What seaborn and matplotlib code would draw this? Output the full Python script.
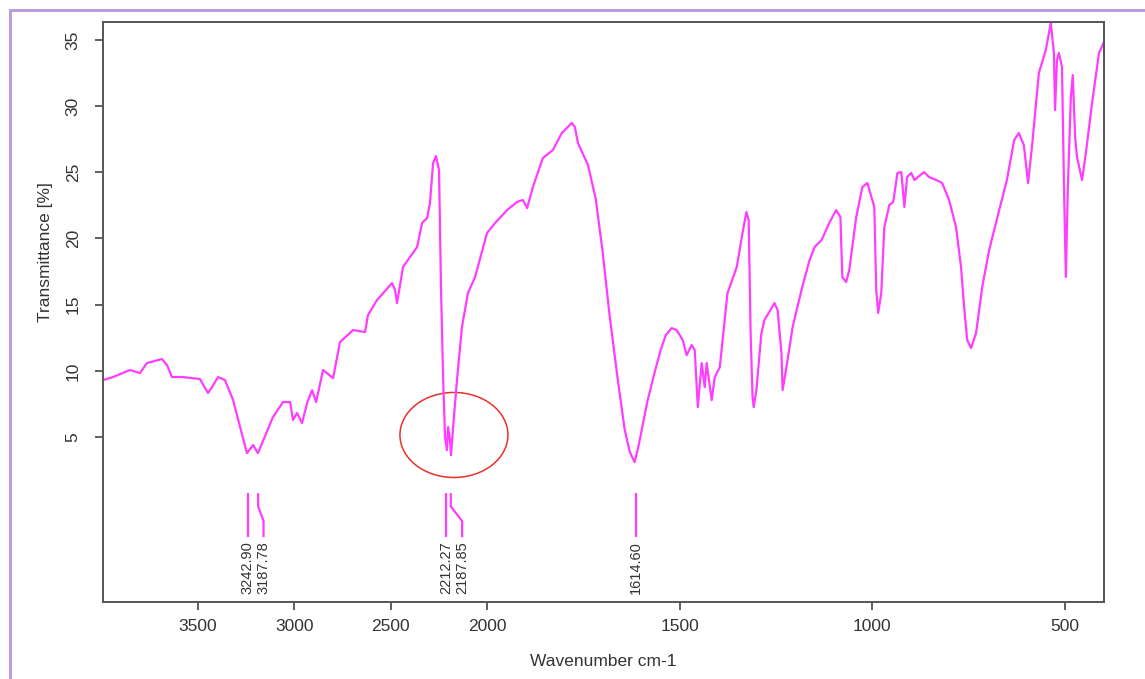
import numpy as np
import pandas as pd
import matplotlib
matplotlib.use("Agg")
import matplotlib.pyplot as plt
import seaborn as sns
from matplotlib.patches import Ellipse
from matplotlib.lines import Line2D

# ---------------- data ----------------
wavenumber = [3993, 3941, 3853, 3801, 3765, 3687, 3661, 3635, 3578, 3490,
              3448, 3427, 3396, 3360, 3318, 3246, 3214, 3189, 3111, 3059,
              3022, 3007, 2986, 2960, 2934, 2908, 2887, 2851, 2799, 2763,
              2695, 2633, 2618, 2571, 2493, 2477, 2467, 2436, 2400, 2363,
              2337, 2311, 2296, 2280, 2265, 2249, 2239, 2228, 2218, 2208,
              2202, 2192, 2187, 2176, 2156, 2130, 2099, 2062, 2000, 1979,
              1948, 1922, 1907, 1896, 1881, 1855, 1829, 1806, 1780, 1772,
              1764, 1738, 1718, 1700, 1682, 1661, 1643, 1630, 1617, 1607,
              1596, 1583, 1565, 1549, 1536, 1521, 1508, 1492, 1482, 1469,
              1461, 1453, 1443, 1435, 1430, 1417, 1409, 1396, 1376, 1352,
              1337, 1327, 1321, 1316, 1311, 1308, 1301, 1288, 1280, 1254,
              1246, 1236, 1233, 1223, 1207, 1182, 1163, 1150, 1132, 1112,
              1094, 1083, 1078, 1068, 1060, 1042, 1026, 1013, 995, 990,
              985, 977, 969, 956, 946, 935, 925, 917, 910, 899,
              891, 866, 853, 834, 819, 801, 783, 770, 762, 754,
              744, 731, 715, 697, 671, 651, 632, 620, 607, 596,
              586, 568, 550, 537, 529, 526, 521, 516, 508, 503,
              498, 493, 485, 480, 474, 469, 456, 446, 430, 412,
              399]

transmittance = [9.30, 9.53, 10.06, 9.83, 10.59, 10.89, 10.43, 9.53, 9.53, 9.38,
                 8.32, 8.77, 9.53, 9.30, 7.79, 3.78, 4.39, 3.78, 6.50, 7.64,
                 7.64, 6.28, 6.81, 6.05, 7.56, 8.54, 7.64, 10.06, 9.45, 12.17,
                 13.08, 12.93, 14.21, 15.35, 16.63, 16.10, 15.12, 17.84, 18.60, 19.35,
                 21.17, 21.55, 22.68, 25.70, 26.23, 25.17, 16.33, 9.53, 5.00, 4.01,
                 5.75, 4.77, 3.63, 5.75, 9.30, 13.31, 15.88, 17.09, 20.41, 21.17,
                 22.15, 22.76, 22.91, 22.30, 23.89, 26.08, 26.69, 27.97, 28.73, 28.42,
                 27.21, 25.55, 23.00, 19.00, 14.20, 9.40, 5.60, 3.90, 3.10, 4.30,
                 5.90, 7.80, 9.90, 11.60, 12.70, 13.23, 13.08, 12.32, 11.19, 11.95,
                 11.57, 7.26, 10.59, 8.77, 10.59, 7.79, 9.53, 10.28, 15.88, 17.84,
                 20.41, 22.00, 21.39, 12.85, 8.02, 7.26, 8.55, 12.85, 13.84, 15.12,
                 14.59, 11.34, 8.55, 10.28, 13.31, 16.33, 18.37, 19.35, 19.88, 21.17,
                 22.15, 21.62, 17.09, 16.71, 17.62, 21.62, 23.89, 24.19, 22.38, 16.10,
                 14.37, 15.88, 20.87, 22.53, 22.76, 24.95, 25.02, 22.38, 24.64, 24.95,
                 24.42, 25.02, 24.64, 24.42, 24.19, 22.91, 20.87, 17.84, 14.82, 12.32,
                 11.72, 12.85, 16.33, 19.13, 22.15, 24.42, 27.44, 27.97, 27.06, 24.19,
                 26.91, 32.51, 34.24, 36.30, 34.02, 29.71, 33.49, 34.02, 32.96, 24.19,
                 17.09, 23.66, 30.69, 32.35, 27.67, 26.16, 24.42, 26.46, 30.24, 34.02,
                 34.85]

peak_wn = [3242.90, 3187.78, 2212.27, 2187.85, 1614.60]
peak_labels = ["3242.90", "3187.78", "2212.27", "2187.85", "1614.60"]

x_ticks = [3500, 3000, 2500, 2000, 1500, 1000, 500]
y_ticks = [5, 10, 15, 20, 25, 30, 35]

# ---------------- style ----------------
sns.set_theme(style="white")
plt.rcParams['font.family'] = ['Liberation Sans', 'DejaVu Sans']

W, H = 1145, 679
fig = plt.figure(figsize=(W / 100, H / 100), dpi=100)
fig.patch.set_facecolor('white')
ax = fig.add_axes([103 / W, 1 - 602 / H, 1001 / W, 580 / H])

df = pd.DataFrame({'wn': wavenumber, 't': transmittance})
sns.lineplot(data=df, x='wn', y='t', ax=ax, color='#ff3cff', lw=1.6,
             sort=False, estimator=None)


def fwd(x):
    x = np.asarray(x, dtype=float)
    return np.where(x > 2000, 2000 + (x - 2000) / 2.0, x)


def inv(u):
    u = np.asarray(u, dtype=float)
    return np.where(u > 2000, 2000 + (u - 2000) * 2.0, u)


ax.set_xscale('function', functions=(fwd, inv))
ax.set_xlim(3993, 399)
ax.set_ylim(-7.47, 36.36)

ax.set_xticks(x_ticks)
ax.set_xticklabels([str(v) for v in x_ticks])
ax.set_yticks(y_ticks)
ax.set_yticklabels([str(v) for v in y_ticks], rotation=90, va='center')
ax.minorticks_off()

ax.tick_params(axis='both', which='major', bottom=True, left=True,
               direction='out', length=6, width=1.2, color='#444444',
               labelsize=12.5, labelcolor='#333333')
ax.tick_params(axis='x', pad=6)
ax.tick_params(axis='y', pad=10)

for s in ax.spines.values():
    s.set_visible(True)
    s.set_color('#555555')
    s.set_linewidth(1.4)

ax.set_xlabel('Wavenumber cm-1', fontsize=12.5, color='#333333')
ax.set_ylabel('Transmittance [%]', fontsize=12.5, color='#333333')
ax.yaxis.set_label_coords(-0.050, 0.603)
ax.xaxis.set_label_coords(0.5, -0.09)
ax.grid(False)

# ---------------- peak markers ----------------
disp_x = [ax.transData.transform((w, 0))[0] for w in peak_wn]
label_x = []
for i, dx in enumerate(disp_x):
    if i == 0:
        label_x.append(dx)
    else:
        label_x.append(max(dx, label_x[-1] + 16))
inv_t = ax.transData.inverted()
for w, lab, lx in zip(peak_wn, peak_labels, label_x):
    wl = inv_t.transform((lx, 0))[0]
    ax.plot([w, w, wl, wl], [0.76, -0.25, -1.35, -2.57],
            color='#ff3cff', lw=1.6, solid_capstyle='butt')
    ax.text(wl, -2.85, lab, rotation=90, ha='center', va='top',
            fontsize=10.5, color='#333333')

# red ellipse
ax.add_patch(Ellipse((0.3506, 0.288), 0.1079, 0.1466, transform=ax.transAxes,
                     fill=False, ec='#e8312a', lw=1.1))

# outer lavender frame
bc = '#bb9ddb'
fig.add_artist(Line2D([9.5 / W, 9.5 / W], [0, 1 - 10 / H], transform=fig.transFigure,
                      color=bc, lw=2.2))
fig.add_artist(Line2D([9.5 / W, 1], [1 - 10 / H, 1 - 10 / H], transform=fig.transFigure,
                      color=bc, lw=2.2))

fig.savefig('out.png', dpi=100)
